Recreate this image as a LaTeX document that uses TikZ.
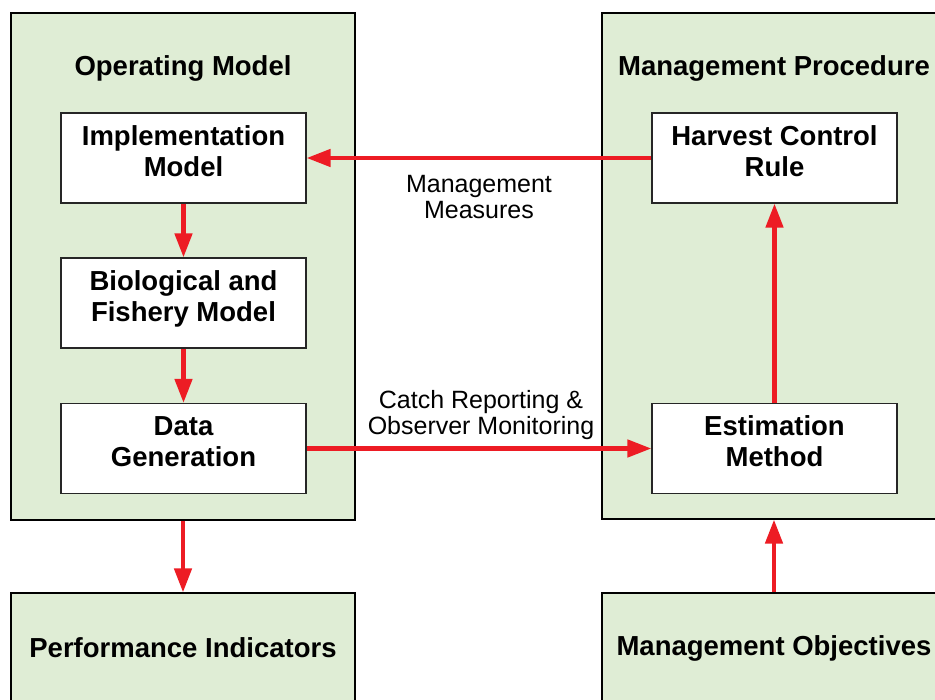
\documentclass[tikz,border=0pt]{standalone}
\usepackage{fontspec}
\setmainfont{Liberation Sans}
\usetikzlibrary{arrows.meta}
\definecolor{boxgreen}{RGB}{223,237,213}
\definecolor{arrred}{RGB}{237,28,36}
\begin{document}
\begin{tikzpicture}[x=1pt,y=-1pt,
  bigbox/.style={draw=black,line width=1.1pt,fill=boxgreen,rectangle,inner sep=0pt,minimum width=344pt},
  inbox/.style={draw=black!85,line width=1.1pt,fill=white,rectangle,inner sep=0pt,minimum width=245pt,minimum height=90pt},
  boxtext/.style={inner sep=0pt,align=center,font=\fontsize{27.5}{31}\selectfont\bfseries},
  titletext/.style={inner sep=0pt,font=\fontsize{27.5}{31}\selectfont\bfseries},
  lbltext/.style={inner sep=0pt,align=center,font=\fontsize{25}{26}\selectfont},
  arr/.style={draw=arrred,line width=4.5pt,-{Triangle[length=24pt,width=17pt]}}]
\useasboundingbox (0,0) rectangle (935,700);
\fill[white] (0,0) rectangle (935,700);
% big boxes
\node[bigbox,minimum height=507pt] (om) at (183,266.5) {};
\node[bigbox,minimum height=506pt] (mp) at (774,266) {};
\node[bigbox,minimum height=110pt] (perf) at (183,648) {};
\node[bigbox,minimum height=110pt] (mo) at (774,648) {};
% titles
\node[titletext] (omt) at (183,68) {Operating Model};
\node[titletext] (mpt) at (774,68) {Management Procedure};
\node[titletext] (perft) at (183,648) {Performance Indicators};
\node[titletext] (mot) at (774,648) {Management Objectives};
% inner boxes
\node[inbox] (impl) at (183.5,158) {};
\node[inbox] (bio) at (183.5,303) {};
\node[inbox] (data) at (183.5,448.5) {};
\node[inbox] (hcr) at (774.5,158) {};
\node[inbox] (est) at (774.5,448.5) {};
\node[boxtext] (implt) at (183.5,151) {Implementation\\Model};
\node[boxtext] (biot) at (183.5,299) {Biological and\\Fishery Model};
\node[boxtext] (datat) at (183.5,441.5) {Data\\Generation};
\node[boxtext] (hcrt) at (774.5,151) {Harvest Control\\Rule};
\node[boxtext] (estt) at (774.5,441.5) {Estimation\\Method};
% arrows
\draw[arr] (impl.south) -- (bio.north);
\draw[arr] (bio.south) -- (data.north);
\draw[arr] (data.east) -- (est.west);
\draw[arr] (est.north) -- (hcr.south);
\draw[arr] (hcr.west) -- (impl.east);
\draw[arr] (om.south) -- (perf.north);
\draw[arr] (mo.north) -- (mp.south);
% labels
\node[lbltext] (mm) at (479,197) {Management\\Measures};
\node[lbltext] (cr) at (481,415) {Catch Reporting \&\\Observer Monitoring};
\end{tikzpicture}
\end{document}
